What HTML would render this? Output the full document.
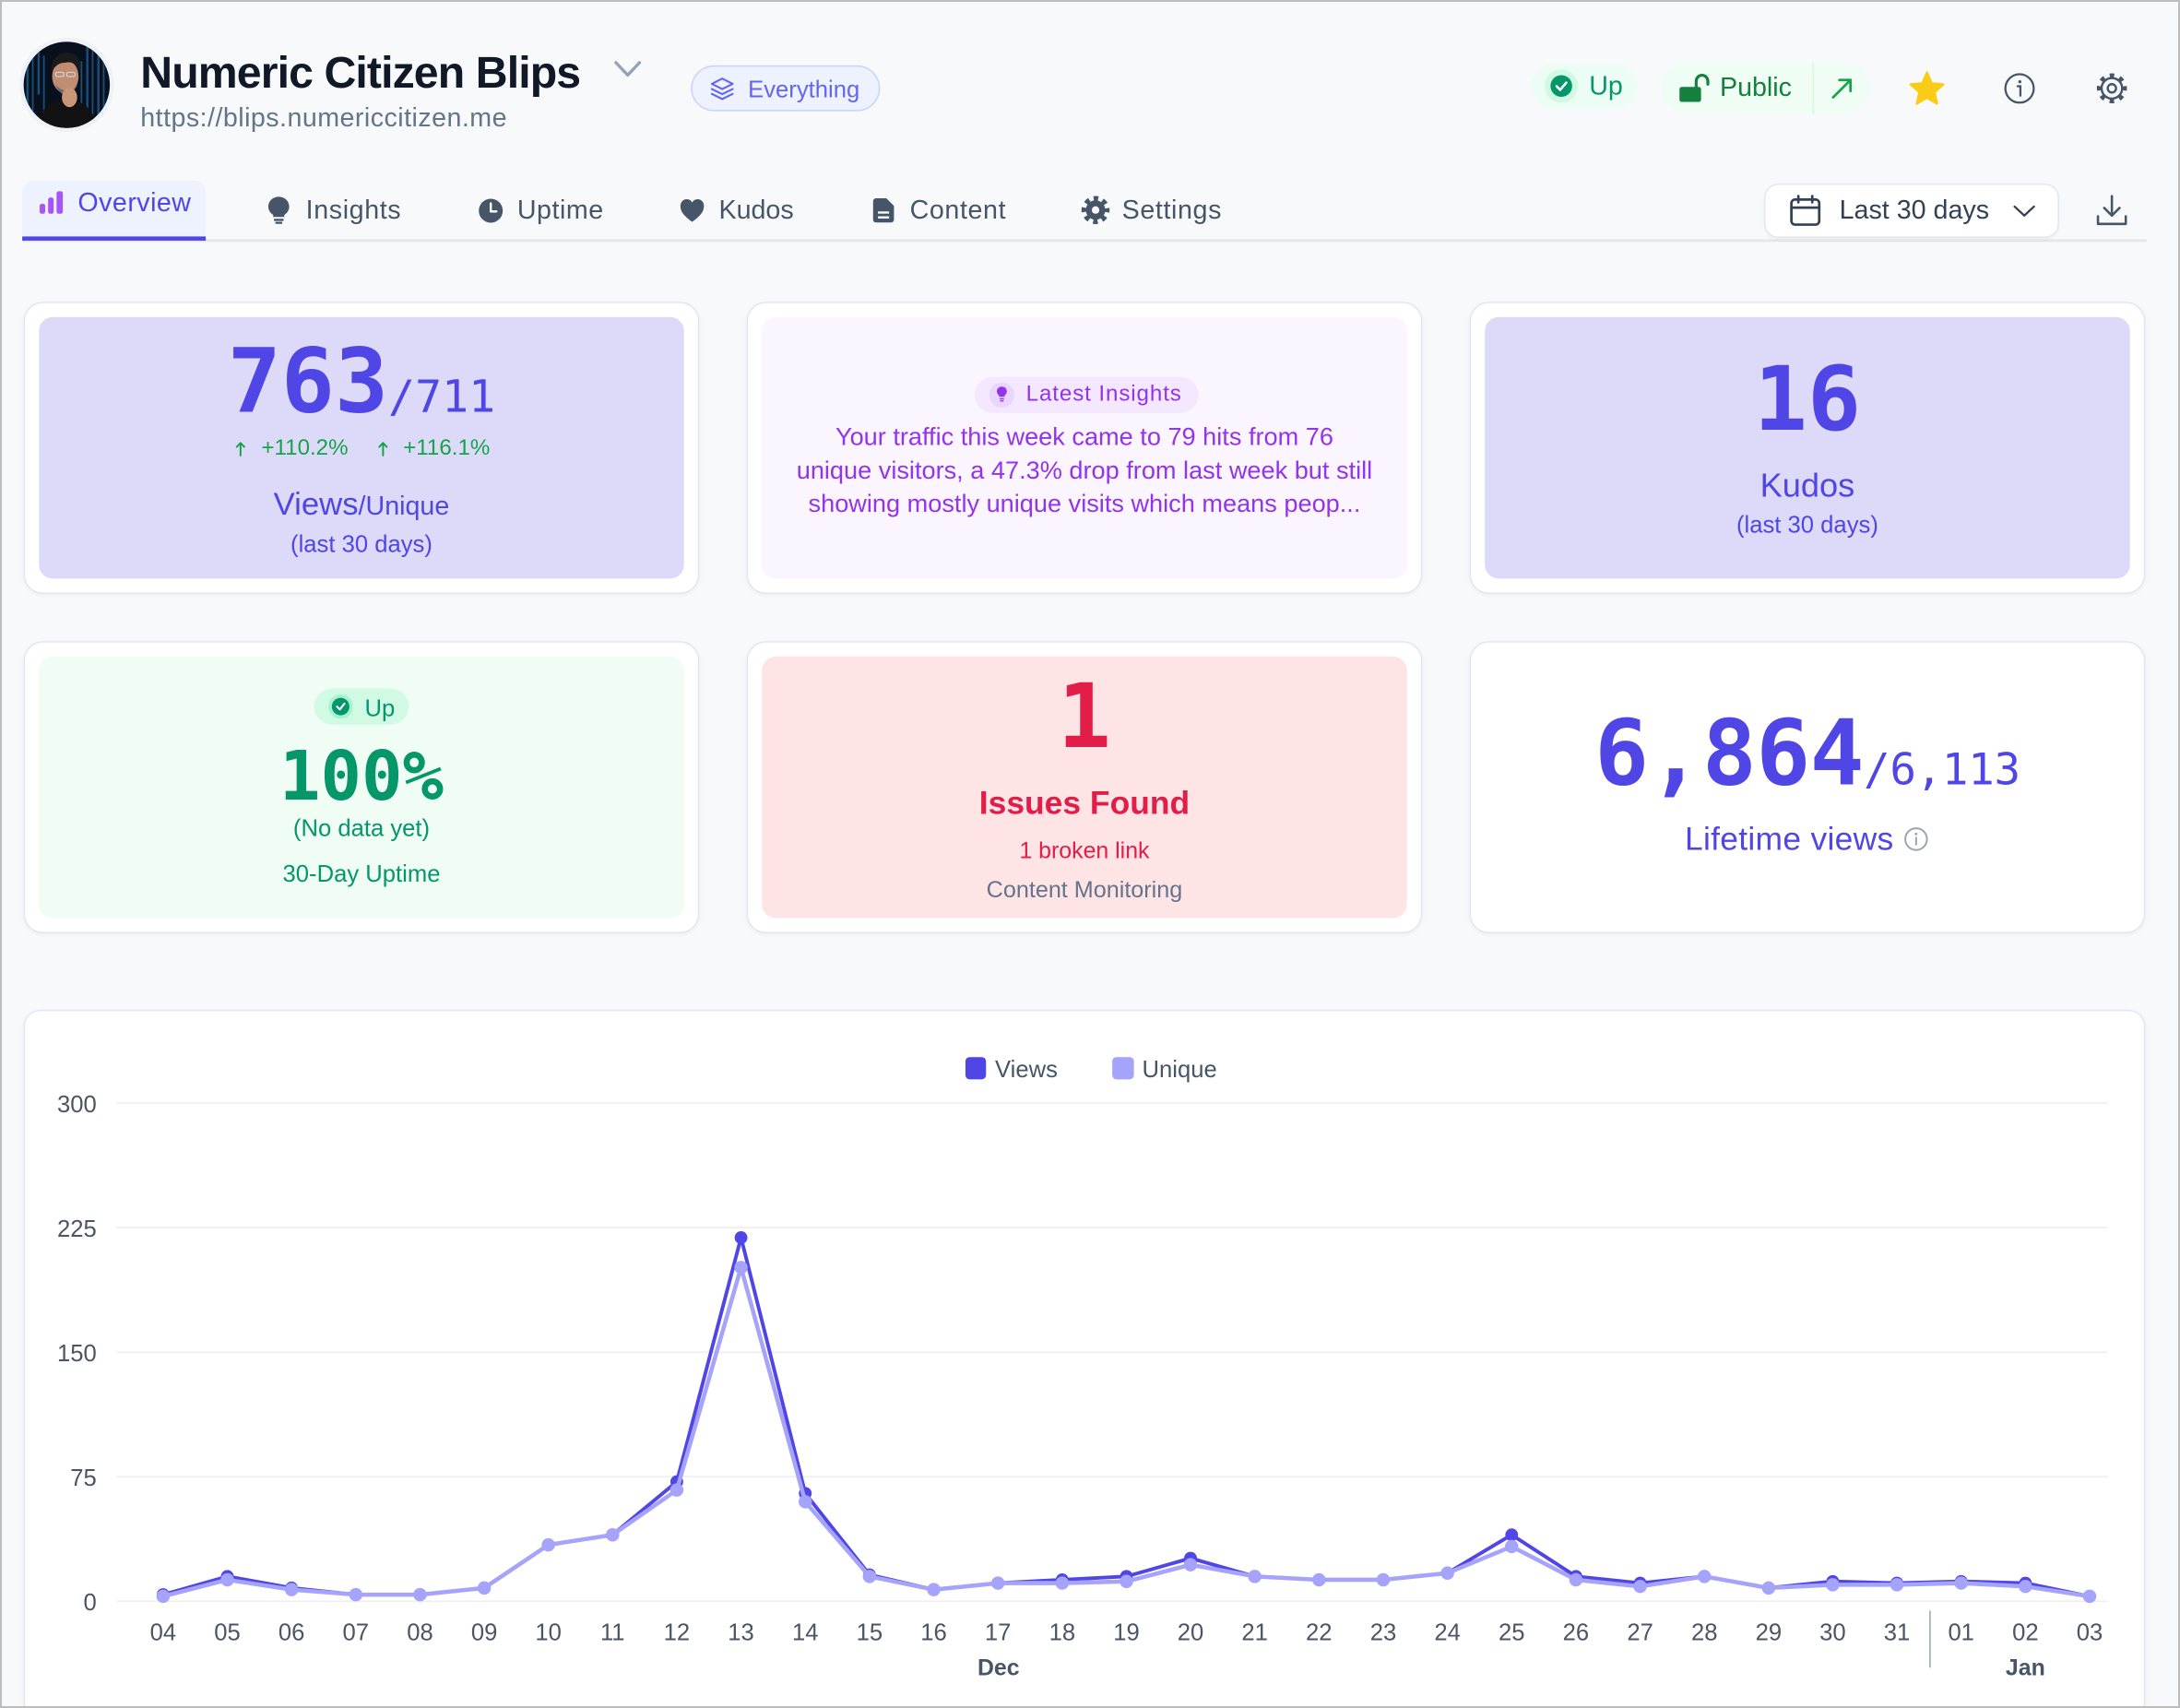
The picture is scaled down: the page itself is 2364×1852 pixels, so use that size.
<!DOCTYPE html>
<html><head><meta charset="utf-8">
<style>
html,body{margin:0;padding:0;overflow:hidden;width:2364px;height:1852px;}
body{background:#f8f9fb;font-family:"Liberation Sans",Arial,sans-serif;}
#root{position:relative;width:2364px;height:1852px;overflow:hidden;background:#f8f9fb;}
#stage{position:absolute;left:0;top:0;width:1568px;height:1228px;transform:scale(1.507653,1.508143);transform-origin:0 0;overflow:hidden;}
.a{position:absolute;white-space:nowrap;line-height:1;}
.c{text-align:center;}
.mono{font-family:"DejaVu Sans Mono","Liberation Mono",monospace;}
.card{position:absolute;background:#fff;border:1px solid #e2e8f0;border-radius:14px;box-sizing:border-box;box-shadow:0 1px 3px rgba(15,23,42,0.05);}
.inner{position:absolute;border-radius:10px;}
.tab{color:#475569;font-size:19px;letter-spacing:0.4px;}
</style></head><body>
<div id="root">
<div id="stage">

<!-- pills / backgrounds -->
<div style="position:absolute;left:497px;top:47px;width:136px;height:33px;box-sizing:border-box;border:1.5px solid #c7d2fe;background:#eef2ff;border-radius:17px;"></div>
<div style="position:absolute;left:1101px;top:46px;width:77px;height:32px;background:#ecfdf5;border-radius:16px;"></div>
<div style="position:absolute;left:1195px;top:45px;width:149px;height:37px;background:#f0fdf4;border-radius:18.5px;"></div>

<!-- nav -->
<div style="position:absolute;left:16px;top:130px;width:132px;height:40px;background:#eef2ff;border-radius:8px 8px 0 0;"></div>
<div style="position:absolute;left:16px;top:172px;width:1528px;height:1.5px;background:#e5e7eb;"></div>
<div style="position:absolute;left:16px;top:169.5px;width:132px;height:3px;background:#4f46e5;"></div>
<div style="position:absolute;left:1269px;top:132px;width:212px;height:38.5px;box-sizing:border-box;background:#fff;border:1px solid #e5e7eb;border-radius:10px;box-shadow:0 1px 2px rgba(0,0,0,0.05);"></div>

<!-- cards row 1 -->
<div class="card" style="left:17px;top:217px;width:486px;height:210px;"></div>
<div class="inner" style="left:28px;top:228px;width:464px;height:188px;background:#dcdaf8;"></div>
<div class="card" style="left:537px;top:217px;width:486px;height:210px;"></div>
<div class="inner" style="left:548px;top:228px;width:464px;height:188px;background:#faf5ff;"></div>
<div style="position:absolute;left:700.6px;top:270.8px;width:161px;height:26.2px;background:#f3e8ff;border-radius:13px;"></div>
<div class="card" style="left:1057px;top:217px;width:486px;height:210px;"></div>
<div class="inner" style="left:1068px;top:228px;width:464px;height:188px;background:#dcdaf8;"></div>

<!-- cards row 2 -->
<div class="card" style="left:17px;top:461px;width:486px;height:210px;"></div>
<div class="inner" style="left:28px;top:472px;width:464px;height:188px;background:#f0fdf4;"></div>
<div style="position:absolute;left:225.8px;top:494.8px;width:68.5px;height:26.5px;background:#d1fae5;border-radius:13.3px;"></div>
<div class="card" style="left:537px;top:461px;width:486px;height:210px;"></div>
<div class="inner" style="left:548px;top:472px;width:464px;height:188px;background:#ffe4e6;"></div>
<div class="card" style="left:1057px;top:461px;width:486px;height:210px;"></div>

<!-- chart card -->
<div class="card" style="left:17px;top:726px;width:1526px;height:510px;border-radius:12px;"></div>

<svg style="position:absolute;left:0;top:0;" width="1568" height="1228" viewBox="0 0 1568 1228">
<defs><clipPath id="av"><circle cx="48" cy="61" r="31"/></clipPath></defs>
<!-- avatar -->
<circle cx="48" cy="61" r="34" fill="#eef1f6"/>
<g clip-path="url(#av)">
<rect x="15" y="28" width="66" height="66" fill="#07101c"/>
<g fill="#1f5a8a" opacity="0.85">
<rect x="19" y="30" width="1.6" height="60"/><rect x="23" y="34" width="1.2" height="50"/><rect x="27" y="28" width="1.6" height="40"/>
<rect x="31" y="40" width="1.2" height="45"/><rect x="62" y="30" width="1.6" height="60"/><rect x="66" y="28" width="1.2" height="55"/>
<rect x="70" y="36" width="1.6" height="50"/><rect x="74" y="30" width="1.2" height="60"/><rect x="58" y="44" width="1.2" height="40"/>
</g>
<path d="M26 94 C28 78 36 72 48 72 C60 72 68 78 70 94 Z" fill="#121212"/>
<ellipse cx="47" cy="55" rx="9.5" ry="12" fill="#c08d72"/>
<path d="M37 52 C36 41 44 37 50 38 C57 39 59 45 57 52 C55 46 52 44 47 45 C42 45 39 48 37 52 Z" fill="#1b1b1b"/>
<path d="M40 61 C42 67 46 69 50 68 C53 66 55 63 56 60 C54 64 51 65 48 65 C44 65 42 63 40 61 Z" fill="#6b6b6b"/>
<ellipse cx="50" cy="70" rx="5.5" ry="7" fill="#c99679"/>
<rect x="40" y="52" width="6" height="3" rx="1.2" fill="none" stroke="#cfd4da" stroke-width="0.8"/>
<rect x="48" y="52" width="6" height="3" rx="1.2" fill="none" stroke="#cfd4da" stroke-width="0.8"/>
</g>
<polyline points="443,45 451.5,54 460,45" fill="none" stroke="#94a3b8" stroke-width="2.2" stroke-linecap="round" stroke-linejoin="round"/>
<!-- layers icon -->
<g fill="none" stroke="#6366f1" stroke-width="1.4" stroke-linejoin="round" stroke-linecap="round">
<path d="M519.5 56.5 L527 60.3 L519.5 64 L512 60.3 Z"/>
<path d="M512 64 L519.5 67.7 L527 64"/>
<path d="M512 67.5 L519.5 71.2 L527 67.5"/>
</g>
<!-- up icon -->
<circle cx="1123" cy="61.8" r="12" fill="#d1fae5"/>
<circle cx="1123" cy="61.8" r="7.8" fill="#059669"/>
<polyline points="1119.6,62 1122.2,64.6 1126.6,59.4" fill="none" stroke="#fff" stroke-width="1.7" stroke-linecap="round" stroke-linejoin="round"/>
<!-- lock -->
<rect x="1208" y="62.5" width="15.5" height="10.8" rx="1.6" fill="#15803d"/>
<path d="M1220 63 V58.3 a4.2 4.2 0 0 1 8.4 0 V60.5" fill="none" stroke="#15803d" stroke-width="2.1" stroke-linecap="round"/>
<line x1="1304.3" y1="45" x2="1304.3" y2="82" stroke="#d9f5e1" stroke-width="1"/>
<g fill="none" stroke="#16a34a" stroke-width="1.8" stroke-linecap="round" stroke-linejoin="round">
<line x1="1318.5" y1="70" x2="1331" y2="57.5"/><polyline points="1323,57.5 1331,57.5 1331,65.5"/>
</g>
<!-- star -->
<polygon points="1386,52 1389.41,59.81 1397.89,60.64 1391.52,66.29 1393.35,74.61 1386,70.3 1378.65,74.61 1380.48,66.29 1374.11,60.64 1382.59,59.81" fill="#facc15" stroke="#facc15" stroke-width="1.5" stroke-linejoin="round"/>
<!-- info -->
<circle cx="1452.6" cy="63.6" r="10.2" fill="none" stroke="#475569" stroke-width="1.5"/>
<circle cx="1452.8" cy="58.8" r="1.1" fill="#475569"/>
<path d="M1451.2 62 H1453.2 V68.8" fill="none" stroke="#475569" stroke-width="1.5" stroke-linecap="round"/>
<!-- header gear (outline) -->
<circle cx="1519" cy="63.5" r="9.3" fill="none" stroke="#475569" stroke-width="3" stroke-dasharray="3.2 4.1" stroke-dashoffset="1.6"/>
<circle cx="1519" cy="63.5" r="7.4" fill="#f8f9fb" stroke="#475569" stroke-width="1.6"/>
<circle cx="1519" cy="63.5" r="3" fill="none" stroke="#475569" stroke-width="1.6"/>

<!-- nav icons -->
<g fill="#a855f7">
<rect x="28.5" y="146.5" width="4" height="7.2" rx="1.5"/>
<rect x="34.6" y="142" width="4" height="11.7" rx="1.5"/>
<rect x="40.7" y="137.5" width="4.5" height="16.2" rx="1.5"/>
</g>
<g fill="#475569">
<path d="M200.5 141.5 C196 141.5 193 144.8 193 148.6 C193 151.2 194.5 153.2 196.5 154.5 L196.5 156 L204.5 156 L204.5 154.5 C206.5 153.2 208 151.2 208 148.6 C208 144.8 205 141.5 200.5 141.5 Z"/>
<rect x="197" y="157.3" width="7" height="1.6" rx="0.5"/><rect x="198" y="159.5" width="5" height="1.5" rx="0.5"/>
<circle cx="353" cy="151.5" r="8.6"/>
<path d="M497.9 159.5 C490 154 489.4 150.5 489.4 148 C489.4 145.2 491.5 143.2 494 143.2 C495.8 143.2 497.2 144.2 497.9 145.6 C498.6 144.2 500 143.2 501.8 143.2 C504.3 143.2 506.3 145.2 506.3 148 C506.3 150.5 505.8 154 497.9 159.5 Z"/>
<path d="M630 142.6 H637.5 L643 148 V158 a2 2 0 0 1 -2 2 H630 a2 2 0 0 1 -2 -2 V144.6 a2 2 0 0 1 2 -2 Z"/>
<circle cx="788" cy="151" r="7"/>
</g>
<polyline points="353,146.3 353,152 357,152" fill="none" stroke="#fff" stroke-width="1.6" stroke-linecap="round" stroke-linejoin="round"/>
<rect x="631.5" y="152" width="8" height="1.6" fill="#f8f9fb"/><rect x="631.5" y="155.5" width="8" height="1.6" fill="#f8f9fb"/>
<circle cx="788" cy="151" r="8.3" fill="none" stroke="#475569" stroke-width="3.6" stroke-dasharray="3.3 3.22" stroke-dashoffset="1.65"/>
<circle cx="788" cy="151" r="2.7" fill="#f8f9fb"/>
<!-- calendar -->
<g fill="none" stroke="#334155" stroke-width="1.8" stroke-linecap="round">
<rect x="1288.5" y="143.5" width="20" height="18" rx="2.5"/>
<line x1="1288.5" y1="149.3" x2="1308.5" y2="149.3"/>
<line x1="1293.5" y1="141" x2="1293.5" y2="145.5"/><line x1="1303.5" y1="141" x2="1303.5" y2="145.5"/>
</g>
<polyline points="1449,148.5 1456,155 1463,148.5" fill="none" stroke="#334155" stroke-width="1.5" stroke-linecap="round" stroke-linejoin="round"/>
<g fill="none" stroke="#475569" stroke-width="1.7" stroke-linecap="round" stroke-linejoin="round">
<line x1="1519" y1="141" x2="1519" y2="155"/><polyline points="1513.5,149.5 1519,155 1524.5,149.5"/>
<polyline points="1509,155.5 1509,161 1529,161 1529,155.5"/>
</g>

<!-- card icons -->
<g fill="none" stroke="#16a34a" stroke-width="1.3" stroke-linecap="round" stroke-linejoin="round">
<line x1="173" y1="327.5" x2="173" y2="318.5"/><polyline points="170.3,321.3 173,318.5 175.7,321.3"/>
<line x1="275.5" y1="327.5" x2="275.5" y2="318.5"/><polyline points="272.8,321.3 275.5,318.5 278.2,321.3"/>
</g>
<circle cx="720.6" cy="284" r="9" fill="#e9d5ff"/>
<path d="M720.6 278 C718.4 278 717 279.6 717 281.4 C717 282.7 717.7 283.6 718.6 284.3 L718.6 285.3 L722.6 285.3 L722.6 284.3 C723.5 283.6 724.2 282.7 724.2 281.4 C724.2 279.6 722.8 278 720.6 278 Z" fill="#9333ea"/>
<rect x="719" y="286.3" width="3.2" height="0.9" fill="#9333ea"/><rect x="719.3" y="287.8" width="2.6" height="0.9" fill="#9333ea"/>
<circle cx="245" cy="508" r="8.8" fill="#a7f3d0"/>
<circle cx="245" cy="508" r="6.3" fill="#059669"/>
<polyline points="242.4,508 244.4,510.1 247.7,505.9" fill="none" stroke="#fff" stroke-width="1.4" stroke-linecap="round" stroke-linejoin="round"/>
<circle cx="1378.2" cy="603.3" r="7.8" fill="none" stroke="#9ca3af" stroke-width="1.3"/>
<circle cx="1378.2" cy="599.6" r="0.95" fill="#9ca3af"/>
<line x1="1378.2" y1="602.2" x2="1378.2" y2="607.2" stroke="#9ca3af" stroke-width="1.3" stroke-linecap="round"/>

<!-- chart -->
<g stroke="#f0f0f3" stroke-width="1.3">
<line x1="83.8" y1="793.1" x2="1515.8" y2="793.1"/>
<line x1="83.8" y1="882.6" x2="1515.8" y2="882.6"/>
<line x1="83.8" y1="972.2" x2="1515.8" y2="972.2"/>
<line x1="83.8" y1="1061.7" x2="1515.8" y2="1061.7"/>
<line x1="83.8" y1="1151.3" x2="1515.8" y2="1151.3"/>
</g>
<g font-family="Liberation Sans, Arial, sans-serif" font-size="17" fill="#4b5563" text-anchor="end">
<text x="69.5" y="799.6">300</text><text x="69.5" y="889.1">225</text><text x="69.5" y="978.7">150</text><text x="69.5" y="1068.2">75</text><text x="69.5" y="1157.8">0</text>
</g>
<g font-family="Liberation Sans, Arial, sans-serif" font-size="17" fill="#4b5563" text-anchor="middle">
<text x="117.3" y="1179.4">04</text><text x="163.5" y="1179.4">05</text><text x="209.7" y="1179.4">06</text><text x="255.9" y="1179.4">07</text><text x="302.1" y="1179.4">08</text><text x="348.3" y="1179.4">09</text><text x="394.4" y="1179.4">10</text><text x="440.6" y="1179.4">11</text><text x="486.8" y="1179.4">12</text><text x="533" y="1179.4">13</text><text x="579.2" y="1179.4">14</text><text x="625.4" y="1179.4">15</text><text x="671.6" y="1179.4">16</text><text x="717.8" y="1179.4">17</text><text x="764" y="1179.4">18</text><text x="810.2" y="1179.4">19</text><text x="856.3" y="1179.4">20</text><text x="902.5" y="1179.4">21</text><text x="948.7" y="1179.4">22</text><text x="994.9" y="1179.4">23</text><text x="1041.1" y="1179.4">24</text><text x="1087.3" y="1179.4">25</text><text x="1133.5" y="1179.4">26</text><text x="1179.7" y="1179.4">27</text><text x="1225.9" y="1179.4">28</text><text x="1272.1" y="1179.4">29</text><text x="1318.2" y="1179.4">30</text><text x="1364.4" y="1179.4">31</text><text x="1410.6" y="1179.4">01</text><text x="1456.8" y="1179.4">02</text><text x="1503" y="1179.4">03</text>
</g>
<g font-family="Liberation Sans, Arial, sans-serif" font-size="16.5" font-weight="700" fill="#475569" text-anchor="middle">
<text x="718.2" y="1204.5">Dec</text><text x="1456.8" y="1204.5">Jan</text>
</g>
<line x1="1388.2" y1="1158" x2="1388.2" y2="1199" stroke="#9ca3af" stroke-width="1"/>
<rect x="694.4" y="760" width="14.8" height="16" rx="3" fill="#4f46e5"/>
<text x="715.7" y="774.4" font-family="Liberation Sans, Arial, sans-serif" font-size="17" fill="#475569">Views</text>
<rect x="800" y="760" width="15.6" height="16" rx="3" fill="#a5a3fa"/>
<text x="821.5" y="774.4" font-family="Liberation Sans, Arial, sans-serif" font-size="17" fill="#475569">Unique</text>

<polyline fill="none" stroke="#4f46e5" stroke-width="2.6" stroke-linejoin="round" points="117.3,1146.5 163.5,1133.4 209.7,1141.7 255.9,1146.5 302.1,1146.5 348.3,1141.7 394.4,1110.7 440.6,1103.5 486.8,1065.3 533,889.8 579.2,1073.7 625.4,1132.2 671.6,1142.9 717.8,1138.2 764,1135.8 810.2,1133.4 856.3,1120.3 902.5,1133.4 948.7,1135.8 994.9,1135.8 1041.1,1131 1087.3,1103.5 1133.5,1133.4 1179.7,1138.2 1225.9,1133.4 1272.1,1141.7 1318.2,1137 1364.4,1138.2 1410.6,1137 1456.8,1138.2 1503,1147.7"/>
<g fill="#4f46e5">
<circle cx="117.3" cy="1146.5" r="4.6"/><circle cx="163.5" cy="1133.4" r="4.6"/><circle cx="209.7" cy="1141.7" r="4.6"/><circle cx="255.9" cy="1146.5" r="4.6"/><circle cx="302.1" cy="1146.5" r="4.6"/><circle cx="348.3" cy="1141.7" r="4.6"/><circle cx="394.4" cy="1110.7" r="4.6"/><circle cx="440.6" cy="1103.5" r="4.6"/><circle cx="486.8" cy="1065.3" r="4.6"/><circle cx="533" cy="889.8" r="4.6"/><circle cx="579.2" cy="1073.7" r="4.6"/><circle cx="625.4" cy="1132.2" r="4.6"/><circle cx="671.6" cy="1142.9" r="4.6"/><circle cx="717.8" cy="1138.2" r="4.6"/><circle cx="764" cy="1135.8" r="4.6"/><circle cx="810.2" cy="1133.4" r="4.6"/><circle cx="856.3" cy="1120.3" r="4.6"/><circle cx="902.5" cy="1133.4" r="4.6"/><circle cx="948.7" cy="1135.8" r="4.6"/><circle cx="994.9" cy="1135.8" r="4.6"/><circle cx="1041.1" cy="1131" r="4.6"/><circle cx="1087.3" cy="1103.5" r="4.6"/><circle cx="1133.5" cy="1133.4" r="4.6"/><circle cx="1179.7" cy="1138.2" r="4.6"/><circle cx="1225.9" cy="1133.4" r="4.6"/><circle cx="1272.1" cy="1141.7" r="4.6"/><circle cx="1318.2" cy="1137" r="4.6"/><circle cx="1364.4" cy="1138.2" r="4.6"/><circle cx="1410.6" cy="1137" r="4.6"/><circle cx="1456.8" cy="1138.2" r="4.6"/><circle cx="1503" cy="1147.7" r="4.6"/>
</g>
<polyline fill="none" stroke="#a5a3fa" stroke-width="3" stroke-linejoin="round" points="117.3,1147.7 163.5,1135.8 209.7,1142.9 255.9,1146.5 302.1,1146.5 348.3,1141.7 394.4,1110.7 440.6,1103.5 486.8,1071.3 533,911.3 579.2,1079.7 625.4,1133.4 671.6,1142.9 717.8,1138.2 764,1138.2 810.2,1137 856.3,1125 902.5,1133.4 948.7,1135.8 994.9,1135.8 1041.1,1131 1087.3,1111.9 1133.5,1135.8 1179.7,1140.6 1225.9,1133.4 1272.1,1141.7 1318.2,1139.4 1364.4,1139.4 1410.6,1138.2 1456.8,1140.6 1503,1147.7"/>
<g fill="#a5a3fa">
<circle cx="117.3" cy="1147.7" r="4.8"/><circle cx="163.5" cy="1135.8" r="4.8"/><circle cx="209.7" cy="1142.9" r="4.8"/><circle cx="255.9" cy="1146.5" r="4.8"/><circle cx="302.1" cy="1146.5" r="4.8"/><circle cx="348.3" cy="1141.7" r="4.8"/><circle cx="394.4" cy="1110.7" r="4.8"/><circle cx="440.6" cy="1103.5" r="4.8"/><circle cx="486.8" cy="1071.3" r="4.8"/><circle cx="533" cy="911.3" r="4.8"/><circle cx="579.2" cy="1079.7" r="4.8"/><circle cx="625.4" cy="1133.4" r="4.8"/><circle cx="671.6" cy="1142.9" r="4.8"/><circle cx="717.8" cy="1138.2" r="4.8"/><circle cx="764" cy="1138.2" r="4.8"/><circle cx="810.2" cy="1137" r="4.8"/><circle cx="856.3" cy="1125" r="4.8"/><circle cx="902.5" cy="1133.4" r="4.8"/><circle cx="948.7" cy="1135.8" r="4.8"/><circle cx="994.9" cy="1135.8" r="4.8"/><circle cx="1041.1" cy="1131" r="4.8"/><circle cx="1087.3" cy="1111.9" r="4.8"/><circle cx="1133.5" cy="1135.8" r="4.8"/><circle cx="1179.7" cy="1140.6" r="4.8"/><circle cx="1225.9" cy="1133.4" r="4.8"/><circle cx="1272.1" cy="1141.7" r="4.8"/><circle cx="1318.2" cy="1139.4" r="4.8"/><circle cx="1364.4" cy="1139.4" r="4.8"/><circle cx="1410.6" cy="1138.2" r="4.8"/><circle cx="1456.8" cy="1140.6" r="4.8"/><circle cx="1503" cy="1147.7" r="4.8"/>
</g>
</svg>

<!-- header text -->
<div class="a" style="left:101px;top:35.9px;font-size:32px;font-weight:700;letter-spacing:-0.6px;color:#111827;">Numeric Citizen Blips</div>
<div class="a" style="left:101px;top:76.4px;font-size:19px;letter-spacing:0.3px;color:#64748b;">https://blips.numericcitizen.me</div>
<div class="a" style="left:538px;top:55.9px;font-size:17px;color:#6366f1;">Everything</div>
<div class="a" style="left:1143px;top:53.4px;font-size:19px;color:#059669;">Up</div>
<div class="a" style="left:1237px;top:54.2px;font-size:19px;color:#15803d;">Public</div>

<!-- nav text -->
<div class="a" style="left:56px;top:137px;font-size:19px;letter-spacing:0.3px;color:#4f46e5;">Overview</div>
<div class="a tab" style="left:220px;top:141.5px;">Insights</div>
<div class="a tab" style="left:372px;top:141.5px;letter-spacing:0.35px;">Uptime</div>
<div class="a tab" style="left:517px;top:141.5px;letter-spacing:0;">Kudos</div>
<div class="a tab" style="left:654.4px;top:141.5px;">Content</div>
<div class="a tab" style="left:807px;top:141.5px;">Settings</div>
<div class="a" style="left:1323px;top:141.9px;font-size:19px;color:#334155;">Last 30 days</div>

<!-- card 1 -->
<div class="a c mono" style="left:60px;width:400px;top:242.9px;font-size:64px;font-weight:700;color:#4f46e5;">763<span style="font-size:32px;font-weight:400;">/711</span></div>
<div class="a" style="left:188px;top:315px;font-size:16px;color:#16a34a;">+110.2%</div>
<div class="a" style="left:290px;top:315px;font-size:16px;color:#16a34a;">+116.1%</div>
<div class="a c" style="left:60px;width:400px;top:351px;font-size:23px;color:#4f46e5;">Views<span style="font-size:19px;">/Unique</span></div>
<div class="a c" style="left:60px;width:400px;top:382.5px;font-size:17px;color:#4f46e5;">(last 30 days)</div>

<!-- card 2 -->
<div class="a" style="left:738px;top:276.1px;font-size:16px;letter-spacing:0.6px;color:#9333ea;">Latest Insights</div>
<div class="a c" style="left:560px;width:440px;top:301.9px;font-size:18px;line-height:24px;color:#9333ea;">Your traffic this week came to 79 hits from 76<br>unique visitors, a 47.3% drop from last week but still<br>showing mostly unique visits which means peop...</div>

<!-- card 3 -->
<div class="a c mono" style="left:1100px;width:400px;top:255.9px;font-size:64px;font-weight:700;color:#4f46e5;">16</div>
<div class="a c" style="left:1100px;width:400px;top:337.5px;font-size:24px;color:#4f46e5;">Kudos</div>
<div class="a c" style="left:1100px;width:400px;top:369px;font-size:17px;color:#4f46e5;">(last 30 days)</div>

<!-- card 4 -->
<div class="a" style="left:262.3px;top:500.6px;font-size:17px;color:#059669;">Up</div>
<div class="a c mono" style="left:60px;width:400px;top:534px;font-size:49px;font-weight:700;color:#059669;">100%</div>
<div class="a c" style="left:60px;width:400px;top:586.5px;font-size:17px;color:#059669;">(No data yet)</div>
<div class="a c" style="left:60px;width:400px;top:619.5px;font-size:17px;color:#059669;">30-Day Uptime</div>

<!-- card 5 -->
<div class="a c mono" style="left:580px;width:400px;top:483.9px;font-size:64px;font-weight:700;color:#e11d48;">1</div>
<div class="a c" style="left:580px;width:400px;top:566.1px;font-size:23.5px;font-weight:700;color:#e11d48;">Issues Found</div>
<div class="a c" style="left:580px;width:400px;top:604px;font-size:16.5px;color:#e11d48;">1 broken link</div>
<div class="a c" style="left:580px;width:400px;top:632px;font-size:16.7px;color:#64748b;">Content Monitoring</div>

<!-- card 6 -->
<div class="a c mono" style="left:1100px;width:400px;top:510.3px;font-size:65px;font-weight:700;letter-spacing:-0.4px;color:#4f46e5;">6,864<span style="font-size:31.5px;font-weight:400;letter-spacing:-0.2px;">/6,113</span></div>
<div class="a" style="left:1211.8px;top:592px;font-size:23.5px;letter-spacing:0.19px;color:#4f46e5;">Lifetime views</div>

</div>
<div style="position:absolute;left:0;top:0;width:2364px;height:1852px;box-sizing:border-box;border:2px solid #bdbdbd;"></div>
</div>
</body></html>
